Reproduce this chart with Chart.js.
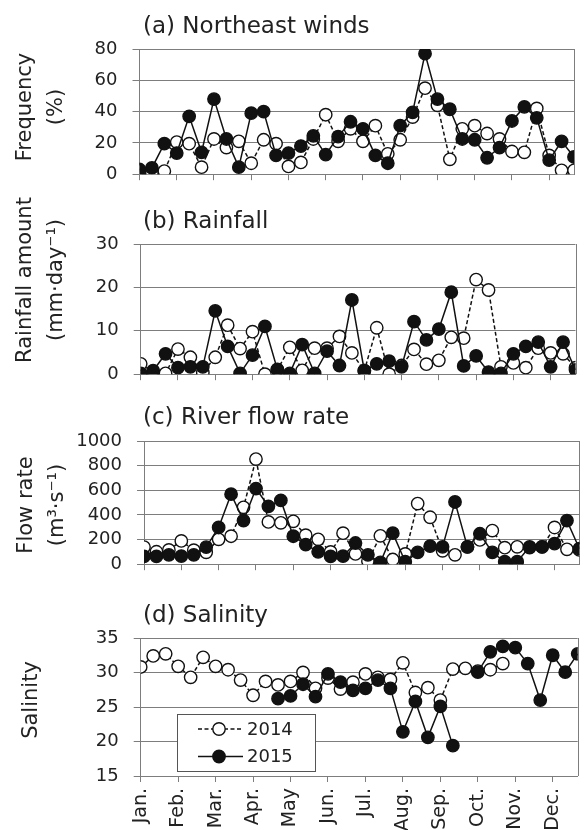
<!DOCTYPE html>
<html>
<head>
<meta charset="utf-8">
<script src="https://cdn.jsdelivr.net/npm/chart.js@4.4.1/dist/chart.umd.min.js"></script>
<style>
  body { margin: 0; background: #fff; }
  #wrap { position: relative; width: 587px; height: 830px; overflow: hidden; font-family: "DejaVu Sans", sans-serif; color: #222; }
  canvas { position: absolute; left: 0; }
  .ptitle { position: absolute; left: 143px; font-size: 23px; line-height: 28px; transform: translateY(-50%); white-space: nowrap; }
  .ytitle { position: absolute; font-size: 21px; line-height: 31px; text-align: center; white-space: nowrap; transform: translate(-50%, -50%) rotate(-90deg); }
</style>
</head>
<body>
<div id="wrap">
  <canvas id="c1" width="587" height="200" style="top:0px"></canvas>
  <canvas id="c2" width="587" height="200" style="top:200px"></canvas>
  <canvas id="c3" width="587" height="190" style="top:400px"></canvas>
  <canvas id="c4" width="587" height="240" style="top:590px"></canvas>

  <div class="ptitle" style="top:25px">(a) Northeast winds</div>
  <div class="ptitle" style="top:220px">(b) Rainfall</div>
  <div class="ptitle" style="top:416px">(c) River flow rate</div>
  <div class="ptitle" style="top:614px">(d) Salinity</div>

  <div class="ytitle" style="left:40px; top:107px">Frequency<br>(%)</div>
  <div class="ytitle" style="left:40px; top:280px">Rainfall amount<br>(mm·day⁻¹)</div>
  <div class="ytitle" style="left:41px; top:505px">Flow rate<br>(m³·s⁻¹)</div>
  <div class="ytitle" style="left:30px; top:700px">Salinity</div>
</div>
<script>
// 10-day periods, Jan. to Dec. (3 per month)
const months = ['Jan.', 'Feb.', 'Mar.', 'Apr.', 'May', 'Jun.', 'Jul.', 'Aug.', 'Sep.', 'Oct.', 'Nov.', 'Dec.'];
const monthTicks = [0, 3, 6, 9, 12, 15, 18, 21, 24, 27, 30, 33];

const wind2014 = [2, 1, 2, 20.5, 19.5, 4.5, 22.5, 17, 21, 7, 22, 19.5, 5, 7.5, 22.5, 38, 21, 29, 21, 31, 13, 22, 36.5, 55, 44, 9.5, 29, 31, 26, 22.5, 14.5, 14, 42, 12, 2.5, 2.5];
const wind2015 = [3, 4, 19.5, 13.5, 37, 14, 48, 22.5, 4.5, 39, 40, 12, 13.5, 18, 24.5, 12.5, 24, 33.5, 29, 12, 7, 31, 39.5, 77, 48, 41.5, 22.5, 22, 10.5, 17, 34, 43, 36, 9, 21, 11];

const rain2014 = [2.4, 0.5, 0.2, 5.8, 3.9, 0.4, 3.9, 11.3, 5.9, 9.8, 0, 1, 6.2, 0.9, 6, 6, 8.7, 4.9, 0.8, 10.7, 0, 2, 5.7, 2.3, 3.2, 8.5, 8.3, 21.8, 19.4, 1.7, 2.6, 1.5, 6, 4.9, 4.7, 1.5];
const rain2015 = [0.2, 0.8, 4.7, 1.5, 1.7, 1.7, 14.6, 6.4, 0.2, 4.4, 11, 1.1, 0.2, 6.8, 0.2, 5.3, 2, 17.1, 0.8, 2.4, 3, 1.7, 12.1, 7.9, 10.4, 18.9, 1.9, 4.2, 0.5, 0.2, 4.7, 6.4, 7.4, 1.7, 7.4, 1];

const flow2014 = [139, 101, 116, 189, 114, 96, 202, 227, 462, 853, 343, 336, 348, 235, 202, 100, 252, 83, 25, 230, 38, 83, 492, 381, 109, 76, 140, 197, 273, 134, 141, 135, 140, 298, 121, 116];
const flow2015 = [63, 63, 76, 66, 76, 139, 298, 568, 354, 614, 470, 518, 227, 159, 101, 63, 65, 172, 76, 15, 252, 20, 96, 146, 141, 505, 141, 247, 96, 20, 20, 141, 141, 167, 354, 126];

const sal2014 = [30.8, 32.4, 32.7, 30.9, 29.3, 32.2, 30.9, 30.4, 28.9, 26.7, 28.7, 28.2, 28.7, 30, 27.7, 29.2, 27.6, 28.6, 29.8, 29.3, 29, 31.4, 27.1, 27.8, 26, 30.5, 30.6, 30.2, 30.4, 31.3, null, null, null, null, null, null];
const sal2015 = [null, null, null, null, null, null, null, null, null, null, null, 26.2, 26.6, 28.3, 26.5, 29.8, 28.6, 27.4, 27.7, 28.9, 27.7, 21.4, 25.8, 20.6, 25.1, 19.4, null, 30.05, 33, 33.8, 33.6, 31.3, 26, 32.5, 30.05, 32.7];

const GRID = '#7d7d7d';
const INK = '#222';
Chart.defaults.font.family = '"DejaVu Sans", sans-serif';

function pts(arr) {
  return arr.map((v, i) => ({ x: i, y: v }));
}

function series(label, values, solid) {
  return {
    label: label,
    data: pts(values),
    borderColor: '#111',
    borderWidth: 1.5,
    borderDash: solid ? [] : [4, 2.5],
    pointRadius: 6.2,
    pointBorderWidth: 1.4,
    pointBackgroundColor: solid ? '#111' : '#fff',
    pointBorderColor: '#111',
    order: solid ? 0 : 1,
    tension: 0
  };
}

// right edge of the plot frame
const frame = {
  id: 'frame',
  beforeDatasetsDraw(chart) {
    const { ctx, chartArea: a } = chart;
    const x = Math.round(a.right) + 0.5;
    ctx.save();
    ctx.strokeStyle = GRID;
    ctx.lineWidth = 1;
    ctx.beginPath();
    ctx.moveTo(x, a.top);
    ctx.lineTo(x, a.bottom);
    ctx.stroke();
    ctx.restore();
  }
};

// boxed legend in the salinity panel
const boxLegend = {
  id: 'boxLegend',
  afterDraw(chart) {
    const ctx = chart.ctx;
    ctx.save();
    ctx.fillStyle = '#fff';
    ctx.fillRect(177, 124, 139, 58);
    ctx.strokeStyle = '#555';
    ctx.lineWidth = 1;
    ctx.strokeRect(177.5, 124.5, 138, 57);
    chart.data.datasets.forEach((ds, i) => {
      const y = 139 + i * 27.5;
      ctx.strokeStyle = ds.borderColor;
      ctx.lineWidth = ds.borderWidth;
      ctx.setLineDash(ds.borderDash);
      ctx.beginPath();
      ctx.moveTo(198, y);
      ctx.lineTo(243, y);
      ctx.stroke();
      ctx.setLineDash([]);
      ctx.beginPath();
      ctx.arc(219, y, ds.pointRadius, 0, Math.PI * 2);
      ctx.fillStyle = ds.pointBackgroundColor;
      ctx.fill();
      ctx.lineWidth = ds.pointBorderWidth;
      ctx.stroke();
      ctx.fillStyle = INK;
      ctx.font = '18px "DejaVu Sans"';
      ctx.textBaseline = 'middle';
      ctx.fillText(ds.label, 247, y + 1);
    });
    ctx.restore();
  }
};

function panel(id, opt) {
  return new Chart(document.getElementById(id), {
    type: 'line',
    data: { datasets: [series('2014', opt.d2014, false), series('2015', opt.d2015, true)] },
    options: {
      responsive: false,
      animation: false,
      devicePixelRatio: 1,
      layout: { padding: { top: opt.top, right: opt.right, left: 0, bottom: 0 } },
      plugins: { legend: { display: false }, tooltip: { enabled: false } },
      scales: {
        x: {
          type: 'linear',
          min: 0,
          max: 35,
          afterBuildTicks: s => { s.ticks = monthTicks.map(v => ({ value: v })); },
          afterFit: s => { s.height = opt.xh; },
          grid: { drawOnChartArea: false, color: GRID, tickLength: 6 },
          border: { color: GRID },
          ticks: {
            display: !!opt.labels,
            autoSkip: false,
            minRotation: 90,
            maxRotation: 90,
            padding: 6,
            color: INK,
            font: { size: 19 },
            callback: v => months[v / 3]
          }
        },
        y: {
          min: opt.min,
          max: opt.max,
          afterFit: s => { s.width = opt.left; },
          ticks: { stepSize: opt.step, padding: 15, color: INK, font: { size: 18 }, callback: v => String(v) },
          grid: { color: GRID, tickLength: 7 },
          border: { color: GRID }
        }
      }
    },
    plugins: opt.legend ? [frame, boxLegend] : [frame]
  });
}

panel('c1', { d2014: wind2014, d2015: wind2015, min: 0, max: 80, step: 20, top: 49, right: 13, left: 139.5, xh: 18 });
panel('c2', { d2014: rain2014, d2015: rain2015, min: 0, max: 30, step: 10, top: 44, right: 11.5, left: 140.7, xh: 23 });
panel('c3', { d2014: flow2014, d2015: flow2015, min: 0, max: 1000, step: 200, top: 41, right: 7, left: 144, xh: 17 });
panel('c4', { d2014: sal2014, d2015: sal2015, min: 15, max: 35, step: 5, top: 48, right: 9.3, left: 140.7, xh: 54, labels: true, legend: true });
</script>
</body>
</html>
